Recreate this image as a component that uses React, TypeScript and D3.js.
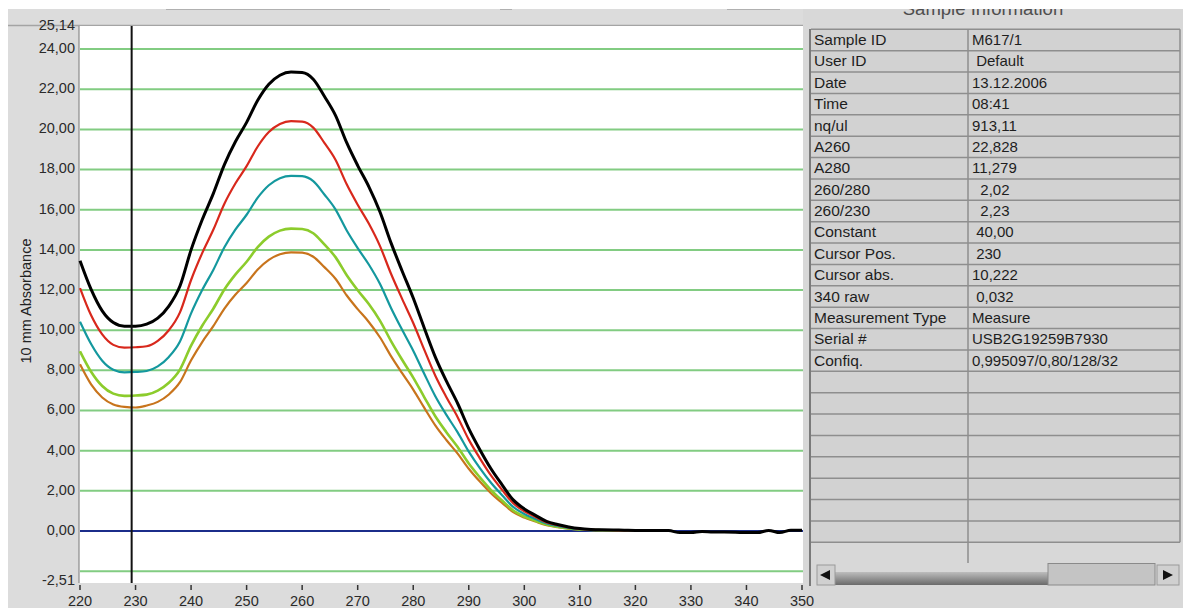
import { useEffect, useRef } from "react";
import * as d3 from "d3";

// wavelength grid (nm)
const wavelengths = [
  220, 222, 224, 226, 228, 230, 232, 234, 236, 238, 240, 242, 244, 246, 248, 250,
  252, 254, 256, 258, 260, 262, 264, 266, 268, 270, 272, 274, 276, 278, 280, 282,
  284, 286, 288, 290, 292, 294, 296, 298, 300, 302, 304, 306, 308, 310, 312, 314,
  316, 318, 320, 322, 324, 326, 328, 330, 332, 334, 336, 338, 340, 342, 344, 346,
  348, 350,
];

// absorbance readings, one list per sample
const blackAbs = [
  13.46, 12.03, 10.96, 10.38, 10.2, 10.2, 10.3, 10.6, 11.2, 12.2, 14.0, 15.5, 16.8, 18.25, 19.4, 20.35,
  21.45, 22.25, 22.7, 22.86, 22.83, 22.5, 21.65, 20.7, 19.35, 18.2, 17.15, 15.9, 14.35, 12.95, 11.6, 10.1,
  8.65, 7.45, 6.35, 5.1, 4.05, 3.1, 2.3, 1.55, 1.1, 0.78, 0.48, 0.32, 0.2, 0.12, 0.08, 0.06,
  0.05, 0.04, 0.03, 0.03, 0.03, 0.02, -0.08, -0.08, -0.03, -0.05, -0.05, -0.06, -0.08, -0.08, 0.03, -0.08,
  0.04, 0.04,
];
const redAbs = [
  12.1, 10.74, 9.79, 9.27, 9.13, 9.15, 9.2, 9.47, 10.0, 10.89, 12.5, 13.84, 15.0, 16.3, 17.32, 18.17,
  19.15, 19.87, 20.27, 20.41, 20.39, 20.09, 19.33, 18.49, 17.28, 16.25, 15.31, 14.2, 12.81, 11.56, 10.36, 9.02,
  7.72, 6.65, 5.67, 4.55, 3.62, 2.77, 2.05, 1.38, 0.98, 0.7, 0.43, 0.29, 0.18, 0.11, 0.07, 0.05,
  0.04, 0.03, 0.03,
];
const tealAbs = [
  10.42, 9.31, 8.48, 8.03, 7.9, 7.92, 7.97, 8.2, 8.67, 9.44, 10.84, 12.0, 13.0, 14.13, 15.02, 15.75,
  16.6, 17.22, 17.57, 17.69, 17.67, 17.42, 16.76, 16.02, 14.98, 14.09, 13.27, 12.31, 11.11, 10.02, 8.98, 7.82,
  6.7, 5.77, 4.91, 3.95, 3.13, 2.4, 1.78, 1.2, 0.85, 0.6, 0.37, 0.25, 0.15, 0.09, 0.06, 0.05,
  0.04, 0.03, 0.02,
];
const greenAbs = [
  8.95, 7.93, 7.22, 6.84, 6.73, 6.75, 6.79, 6.99, 7.38, 8.04, 9.23, 10.22, 11.07, 12.03, 12.78, 13.41,
  14.14, 14.66, 14.96, 15.06, 15.04, 14.83, 14.27, 13.64, 12.75, 11.99, 11.3, 10.48, 9.46, 8.53, 7.64, 6.66,
  5.7, 4.91, 4.18, 3.36, 2.67, 2.04, 1.52, 1.02, 0.72, 0.51, 0.32, 0.21, 0.13, 0.08, 0.05, 0.04,
  0.03, 0.03, 0.02,
];
const orangeAbs = [
  8.3, 7.3, 6.65, 6.3, 6.18, 6.15, 6.25, 6.43, 6.8, 7.41, 8.5, 9.41, 10.2, 11.08, 11.78, 12.35,
  13.02, 13.5, 13.78, 13.88, 13.86, 13.66, 13.14, 12.56, 11.74, 11.05, 10.41, 9.65, 8.71, 7.86, 7.04, 6.13,
  5.25, 4.52, 3.85, 3.1, 2.46, 1.88, 1.4, 0.94, 0.67, 0.47, 0.29, 0.19, 0.12, 0.07, 0.05, 0.04,
  0.03, 0.02, 0.02,
];

const gridValues = [-2, 2, 4, 6, 8, 10, 12, 14, 16, 18, 20, 22, 24];
const yTickValues = [25.14, 24, 22, 20, 18, 16, 14, 12, 10, 8, 6, 4, 2, 0, -2.51];
const xTickValues = [220, 230, 240, 250, 260, 270, 280, 290, 300, 310, 320, 330, 340, 350];
const cursorPos = 229.3;

const infoLabels = [
  "Sample ID", "User ID", "Date", "Time", "nq/ul", "A260", "A280", "260/280", "260/230",
  "Constant", "Cursor Pos.", "Cursor abs.", "340 raw", "Measurement Type", "Serial #", "Confiq.",
];
const infoValues = [
  "M617/1", " Default", "13.12.2006", "08:41", "913,11", "22,828", "11,279", "  2,02", "  2,23",
  " 40,00", " 230", "10,222", " 0,032", "Measure", "USB2G19259B7930", "0,995097/0,80/128/32",
];

export default function App() {
  const svgRef = useRef<SVGSVGElement>(null);

  useEffect(() => {
    document.body.style.margin = "0";
    const width = 1183;
    const height = 608;

    const svg = d3
      .select(svgRef.current)
      .attr("width", width)
      .attr("height", height)
      .style("display", "block")
      .style("font-family", "'Liberation Sans', Arial, sans-serif");
    svg.selectAll("*").remove();

    const x = d3.scaleLinear().domain([220, 350]).range([80, 802]);
    const y = d3.scaleLinear().domain([-2.51, 25.14]).range([581.4, 26.2]);
    const fmt = (v: number) => v.toFixed(2).replace(".", ",");

    // backgrounds
    svg.append("rect").attr("width", width).attr("height", height).attr("fill", "#fff");
    svg.append("rect").attr("x", 8).attr("y", 9).attr("width", width - 8).attr("height", height - 9).attr("fill", "#dcdcdc");
    [[166, 390], [500, 512], [727, 780]].forEach(([a, b]) => {
      svg.append("line").attr("x1", a).attr("x2", b).attr("y1", 9.5).attr("y2", 9.5).attr("stroke", "#b0b0b0");
    });
    svg.append("line").attr("x1", 8).attr("x2", 806).attr("y1", 25.5).attr("y2", 25.5).attr("stroke", "#a4a4a4").attr("stroke-width", 1.5);

    // info panel background
    svg.append("rect").attr("x", 803).attr("y", 9).attr("width", 380).attr("height", 599).attr("fill", "#d8d8d8");

    // plot area
    svg.append("rect").attr("x", 79).attr("y", 26).attr("width", 724).attr("height", 557).attr("fill", "#fff");

    svg
      .selectAll(".grid")
      .data(gridValues)
      .enter()
      .append("line")
      .attr("x1", 80)
      .attr("x2", 803)
      .attr("y1", (d) => y(d))
      .attr("y2", (d) => y(d))
      .attr("stroke", "#82cc82")
      .attr("stroke-width", 2);

    svg
      .append("line")
      .attr("x1", 80)
      .attr("x2", 803)
      .attr("y1", y(0))
      .attr("y2", y(0))
      .attr("stroke", "#1b2d8a")
      .attr("stroke-width", 2);

    // y axis
    svg.append("line").attr("x1", 79).attr("x2", 79).attr("y1", 26).attr("y2", 583).attr("stroke", "#8a8a8a").attr("stroke-width", 1.2);
    svg
      .selectAll(".ytick")
      .data(yTickValues)
      .enter()
      .append("text")
      .attr("x", 75)
      .attr("y", (d) => y(d))
      .attr("text-anchor", "end")
      .attr("dominant-baseline", "middle")
      .style("font-size", "14.5px")
      .attr("fill", "#2a2a2a")
      .text((d) => fmt(d));

    svg
      .append("text")
      .attr("transform", "translate(27, 301) rotate(-90)")
      .attr("text-anchor", "middle")
      .attr("dominant-baseline", "middle")
      .style("font-size", "14.5px")
      .attr("fill", "#222")
      .text("10 mm Absorbance");

    // curves
    const series = [
      { values: orangeAbs, color: "#c8741c", w: 2.2 },
      { values: greenAbs, color: "#8ccc2c", w: 2.6 },
      { values: tealAbs, color: "#14989e", w: 2.2 },
      { values: redAbs, color: "#d8281c", w: 2.2 },
      { values: blackAbs, color: "#000000", w: 3 },
    ];
    const line = d3
      .line<[number, number]>()
      .x((d) => x(d[0]))
      .y((d) => y(d[1]))
      .curve(d3.curveMonotoneX);
    series.forEach((s) => {
      const pts = s.values.map((v, i) => [wavelengths[i], v] as [number, number]);
      svg
        .append("path")
        .attr("d", line(pts))
        .attr("fill", "none")
        .attr("stroke", s.color)
        .attr("stroke-width", s.w)
        .attr("stroke-linejoin", "round");
    });

    // cursor
    svg
      .append("line")
      .attr("x1", x(cursorPos))
      .attr("x2", x(cursorPos))
      .attr("y1", 26)
      .attr("y2", 583)
      .attr("stroke", "#111")
      .attr("stroke-width", 2);

    // table
    svg.append("line").attr("x1", 810).attr("x2", 810).attr("y1", 29).attr("y2", 586).attr("stroke", "#7a7a7a").attr("stroke-width", 2);

    const rowTop = 29.3;
    const rowH = 21.375;
    const nRows = 24;
    svg.append("rect").attr("x", 811).attr("y", rowTop).attr("width", 369).attr("height", rowH * nRows).attr("fill", "#d2d2d2");
    d3.range(nRows + 1).forEach((i) => {
      svg
        .append("line")
        .attr("x1", 811)
        .attr("x2", 1180)
        .attr("y1", rowTop + i * rowH)
        .attr("y2", rowTop + i * rowH)
        .attr("stroke", "#8e8e8e")
        .attr("stroke-width", 1.5);
    });
    svg.append("line").attr("x1", 968).attr("x2", 968).attr("y1", rowTop).attr("y2", 563).attr("stroke", "#8e8e8e").attr("stroke-width", 1.5);
    svg.append("line").attr("x1", 1180).attr("x2", 1180).attr("y1", rowTop).attr("y2", rowTop + rowH * nRows).attr("stroke", "#8e8e8e").attr("stroke-width", 1.5);

    infoLabels.forEach((lab, i) => {
      svg
        .append("text")
        .attr("x", 814)
        .attr("y", rowTop + i * rowH + 15.8)
        .style("font-size", "15.5px")
        .attr("fill", "#1e1e1e")
        .text(lab);
      svg
        .append("text")
        .attr("x", 972)
        .attr("y", rowTop + i * rowH + 15.8)
        .style("font-size", "15px")
        .style("white-space", "pre")
        .attr("xml:space", "preserve")
        .attr("fill", "#1e1e1e")
        .text(infoValues[i]);
    });

    // scrollbar
    const defs = svg.append("defs");
    const grad = defs.append("linearGradient").attr("id", "trackGrad").attr("x1", 0).attr("x2", 0).attr("y1", 0).attr("y2", 1);
    grad.append("stop").attr("offset", "0%").attr("stop-color", "#bdbdbd");
    grad.append("stop").attr("offset", "100%").attr("stop-color", "#6a6a6a");
    svg.append("rect").attr("x", 835).attr("y", 572).attr("width", 213).attr("height", 13).attr("fill", "url(#trackGrad)");
    svg.append("rect").attr("x", 1048).attr("y", 563.5).attr("width", 107).attr("height", 21.5).attr("fill", "#c4c4c4").attr("stroke", "#8a8a8a");
    svg.append("rect").attr("x", 817).attr("y", 565).attr("width", 18).attr("height", 20).attr("fill", "#d0d0d0").attr("stroke", "#9a9a9a");
    svg.append("polygon").attr("points", "820,575 830,570 830,580").attr("fill", "#111");
    svg.append("rect").attr("x", 1157).attr("y", 565).attr("width", 22).attr("height", 20).attr("fill", "#d0d0d0").attr("stroke", "#9a9a9a");
    svg.append("polygon").attr("points", "1163,570 1173,575 1163,580").attr("fill", "#111");

    // x axis (drawn last so the 350 label sits over the panel)
    svg
      .selectAll(".xtickmark")
      .data(xTickValues)
      .enter()
      .append("line")
      .attr("x1", (d) => x(d))
      .attr("x2", (d) => x(d))
      .attr("y1", 585)
      .attr("y2", 590)
      .attr("stroke", "#333")
      .attr("stroke-width", 1.5);
    svg
      .selectAll(".xtick")
      .data(xTickValues)
      .enter()
      .append("text")
      .attr("x", (d) => x(d))
      .attr("y", 606)
      .attr("text-anchor", "middle")
      .style("font-size", "14.5px")
      .attr("fill", "#2a2a2a")
      .text((d) => d);

    // panel title, clipped by the page margin above
    svg
      .append("text")
      .attr("x", 983)
      .attr("y", 14.5)
      .attr("text-anchor", "middle")
      .style("font-size", "18.5px")
      .attr("fill", "#4e4e4e")
      .text("Sample Information");
    svg.append("rect").attr("x", 0).attr("y", 0).attr("width", width).attr("height", 9).attr("fill", "#fff");
  }, []);

  return <svg ref={svgRef}></svg>;
}
